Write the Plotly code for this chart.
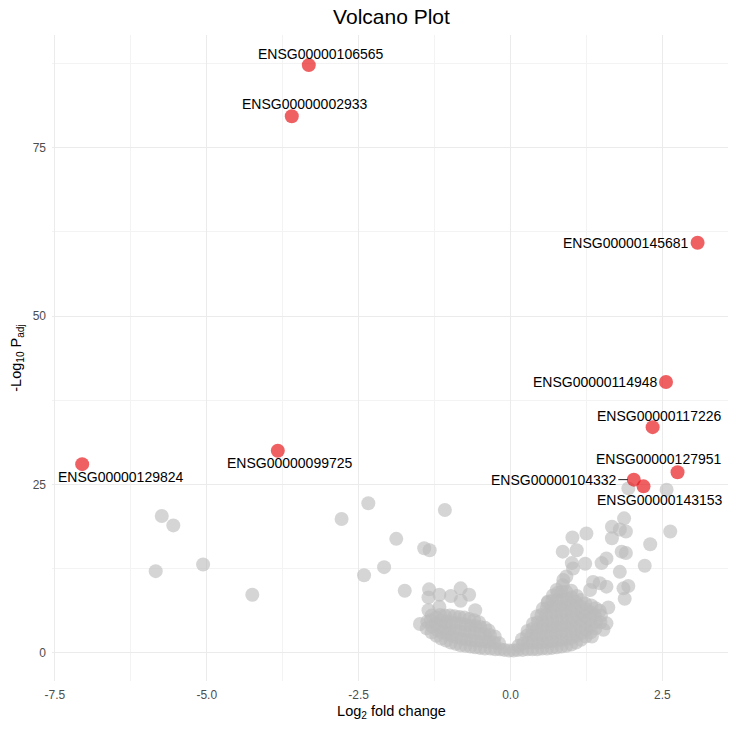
import plotly.graph_objects as go

# ---------------- data ----------------
# highlighted (significant) genes
sig_genes = ["ENSG00000106565", "ENSG00000002933", "ENSG00000145681", "ENSG00000114948",
             "ENSG00000117226", "ENSG00000127951", "ENSG00000104332", "ENSG00000143153",
             "ENSG00000099725", "ENSG00000129824"]
sig_lfc = [-3.32, -3.60, 3.08, 2.56, 2.34, 2.75, 2.03, 2.19, -3.83, -7.05]
sig_padj = [87.3, 79.7, 60.9, 40.2, 33.5, 26.8, 25.7, 24.7, 30.0, 28.0]
# label offsets in pixels (text centre relative to point)
label_dx = [12, 13, -72, -71, 6, -19, -80, 16, 12, 39]
label_dy = [11, 12, 0, 0, 11, 13, 0, -14, -12, -13]

# non-significant genes: dense left arm of the V
left_x = [-0.10, -0.02,
          -0.17, -0.19,
          -0.25, -0.27, -0.26,
          -0.33, -0.35, -0.34, -0.36,
          -0.42, -0.41, -0.43, -0.42,
          -0.50, -0.49, -0.51, -0.50, -0.52,
          -0.58, -0.57, -0.59, -0.58, -0.60,
          -0.66, -0.65, -0.67, -0.66, -0.68,
          -0.74, -0.73, -0.75, -0.74, -0.76,
          -0.82, -0.81, -0.83, -0.82, -0.84,
          -0.90, -0.89, -0.91, -0.90, -0.92,
          -0.98, -0.97, -0.99, -0.98, -1.00,
          -1.06, -1.05, -1.07, -1.06, -1.08,
          -1.14, -1.13, -1.15, -1.14, -1.16,
          -1.22, -1.21, -1.23, -1.22,
          -1.30, -1.29, -1.31, -1.30,
          -1.38, -1.37]
left_y = [0.4, 0.3,
          0.5, 1.4,
          0.5, 1.5, 2.4,
          0.6, 1.6, 2.6, 3.3,
          0.6, 1.7, 2.7, 3.7,
          0.7, 1.7, 2.8, 3.8, 4.5,
          0.8, 1.8, 2.9, 3.9, 4.8,
          0.9, 1.9, 3.0, 4.0, 5.0,
          1.0, 2.0, 3.1, 4.1, 5.2,
          1.1, 2.1, 3.2, 4.3, 5.3,
          1.3, 2.3, 3.3, 4.4, 5.4,
          1.5, 2.5, 3.5, 4.5, 5.5,
          1.8, 2.8, 3.7, 4.6, 5.5,
          2.1, 3.0, 3.9, 4.8, 5.6,
          2.5, 3.4, 4.3, 5.2,
          3.0, 3.9, 4.8, 5.5,
          3.6, 4.6]

# dense right arm of the V
right_x = [0.05,
           0.12, 0.13,
           0.20, 0.21, 0.19,
           0.28, 0.29, 0.27, 0.28,
           0.36, 0.37, 0.35, 0.36, 0.37,
           0.44, 0.45, 0.43, 0.44, 0.45, 0.44,
           0.52, 0.53, 0.51, 0.52, 0.53, 0.51, 0.53,
           0.60, 0.61, 0.59, 0.60, 0.61, 0.59, 0.60, 0.61,
           0.68, 0.69, 0.67, 0.68, 0.69, 0.67, 0.68, 0.69, 0.70,
           0.76, 0.77, 0.75, 0.76, 0.77, 0.75, 0.76, 0.77, 0.78,
           0.84, 0.85, 0.83, 0.84, 0.85, 0.83, 0.84, 0.85, 0.84, 0.86,
           0.92, 0.93, 0.91, 0.92, 0.93, 0.91, 0.92, 0.93, 0.92,
           1.00, 1.01, 0.99, 1.00, 1.01, 0.99, 1.00, 1.01, 1.00,
           1.08, 1.09, 1.07, 1.08, 1.09, 1.07, 1.08, 1.09,
           1.16, 1.17, 1.15, 1.16, 1.17, 1.15, 1.16,
           1.24, 1.25, 1.23, 1.24, 1.25, 1.23,
           1.32, 1.33, 1.31, 1.32, 1.33,
           1.40, 1.41, 1.39, 1.40,
           1.48, 1.49, 1.47]
right_y = [0.3,
           0.4, 1.0,
           0.4, 1.3, 2.0,
           0.5, 1.5, 2.5, 3.2,
           0.5, 1.5, 2.5, 3.5, 4.3,
           0.5, 1.5, 2.5, 3.5, 4.5, 5.4,
           0.6, 1.6, 2.6, 3.6, 4.6, 5.6, 6.5,
           0.6, 1.6, 2.6, 3.6, 4.6, 5.6, 6.6, 7.4,
           0.7, 1.7, 2.7, 3.7, 4.7, 5.7, 6.7, 7.7, 8.5,
           0.8, 1.8, 2.8, 3.8, 4.8, 5.8, 6.8, 7.8, 8.9,
           0.9, 1.9, 2.9, 3.9, 4.9, 5.9, 6.9, 7.9, 9.0, 10.0,
           1.0, 2.0, 3.0, 4.0, 5.0, 6.0, 7.0, 8.0, 9.0,
           1.2, 2.2, 3.2, 4.2, 5.2, 6.2, 7.2, 8.2, 9.2,
           1.5, 2.5, 3.5, 4.5, 5.5, 6.5, 7.5, 8.4,
           1.9, 2.9, 3.9, 4.9, 5.9, 6.9, 7.8,
           2.4, 3.4, 4.4, 5.4, 6.4, 7.3,
           3.0, 4.0, 5.0, 6.0, 7.0,
           3.6, 4.6, 5.6, 6.6,
           4.5, 5.5, 6.2]

# scattered non-significant genes, negative fold change
sparse_neg_x = [-5.74, -5.55, -5.84, -5.06, -4.25, -2.78, -2.34, -2.41, -2.08, -1.88,
                -1.08, -1.42, -1.33, -1.74, -1.34, -1.35, -1.17, -0.98, -0.82, -0.68,
                -0.82, -1.49, -1.35, -1.17, -0.58]
sparse_neg_y = [20.3, 18.9, 12.1, 13.1, 8.6, 19.85, 22.2, 11.5, 12.7, 16.9,
                21.2, 15.5, 15.2, 9.2, 9.4, 8.2, 8.6, 8.4, 9.55, 8.6,
                7.7, 4.25, 6.3, 6.8, 6.3]

# scattered non-significant genes, positive fold change
sparse_pos_x = [1.87, 1.67, 1.80, 1.90, 1.67, 2.63, 1.25, 1.02, 2.30, 0.86,
                1.09, 1.83, 1.90, 1.58, 1.50, 1.23, 1.01, 2.21, 1.03, 1.80,
                0.92, 0.87, 1.36, 0.76, 1.58, 1.86, 1.94, 1.88, 0.62, 1.61,
                1.58, 1.53, 1.34, 1.31, 1.47, 1.94, 2.57]
sparse_pos_y = [19.95, 18.7, 18.3, 18.0, 17.0, 18.0, 17.7, 17.1, 16.1, 15.0,
                15.2, 15.0, 14.8, 14.0, 13.3, 13.2, 13.3, 12.9, 12.5, 12.0,
                11.3, 10.8, 10.5, 9.3, 9.8, 9.55, 9.9, 8.0, 7.6, 6.7,
                4.35, 3.4, 2.4, 9.3, 10.3, 24.4, 24.2]

x_ticks = [-7.5, -5.0, -2.5, 0.0, 2.5]
x_tick_text = ["-7.5", "-5.0", "-2.5", "0.0", "2.5"]
x_minor = [-6.25, -3.75, -1.25, 1.25]
y_ticks = [0, 25, 50, 75]
y_minor = [12.5, 37.5, 62.5, 87.5]

# ---------------- figure ----------------
FONT = "Liberation Sans, Arial, Helvetica, sans-serif"

gray_x = left_x + right_x + sparse_neg_x + sparse_pos_x
gray_y = left_y + right_y + sparse_neg_y + sparse_pos_y

fig = go.Figure()
fig.add_trace(go.Scatter(
    x=gray_x, y=gray_y, mode="markers",
    marker=dict(size=14, color="rgba(188,188,188,0.62)", line=dict(width=0)),
    hoverinfo="skip", showlegend=False))
fig.add_trace(go.Scatter(
    x=sig_lfc, y=sig_padj, mode="markers", text=sig_genes,
    marker=dict(size=14, color="rgba(232,20,25,0.68)", line=dict(width=0)),
    showlegend=False))

for g, xv, yv, dx, dy in zip(sig_genes, sig_lfc, sig_padj, label_dx, label_dy):
    if g == "ENSG00000104332":
        fig.add_annotation(x=xv, y=yv, text=g, showarrow=True, arrowhead=0,
                           arrowwidth=1, arrowcolor="#222", ax=dx, ay=-dy,
                           standoff=6, startstandoff=0,
                           font=dict(family=FONT, size=14, color="black"))
    else:
        fig.add_annotation(x=xv, y=yv, text=g, showarrow=False,
                           xshift=dx, yshift=dy, xanchor="center", yanchor="middle",
                           font=dict(family=FONT, size=14, color="black"))

fig.update_layout(
    width=728, height=721,
    margin=dict(l=44, r=5, t=27, b=48, autoexpand=False),
    paper_bgcolor="white", plot_bgcolor="white",
    font=dict(family=FONT, color="black"),
    title=dict(text="Volcano Plot", x=0.5, xref="paper", xanchor="center",
               y=1 - 8.5 / 721, yref="container", yanchor="middle",
               font=dict(family=FONT, size=21, color="black")),
    xaxis=dict(range=[-7.547, 3.63], tickvals=x_ticks, ticktext=x_tick_text,
               showgrid=True, gridcolor="#EBEBEB", gridwidth=1.1, zeroline=False,
               showline=False, ticks="", ticklabelstandoff=5,
               tickfont=dict(family=FONT, size=12, color="#4D4D4D"),
               minor=dict(tickvals=x_minor, showgrid=True, gridcolor="#F3F3F3", gridwidth=0.6),
               title=dict(text="Log<sub>2</sub> fold change", standoff=4,
                          font=dict(family=FONT, size=14.5, color="black"))),
    yaxis=dict(range=[-4.22, 91.77], tickvals=y_ticks,
               showgrid=True, gridcolor="#EBEBEB", gridwidth=1.1, zeroline=False,
               showline=False, ticks="", ticklabelstandoff=5,
               tickfont=dict(family=FONT, size=12, color="#4D4D4D"),
               minor=dict(tickvals=y_minor, showgrid=True, gridcolor="#F3F3F3", gridwidth=0.6),
               title=dict(text="-Log<sub>10</sub> P<sub>adj</sub>", standoff=9,
                          font=dict(family=FONT, size=14.5, color="black"))),
)

fig.write_html("out.html")
